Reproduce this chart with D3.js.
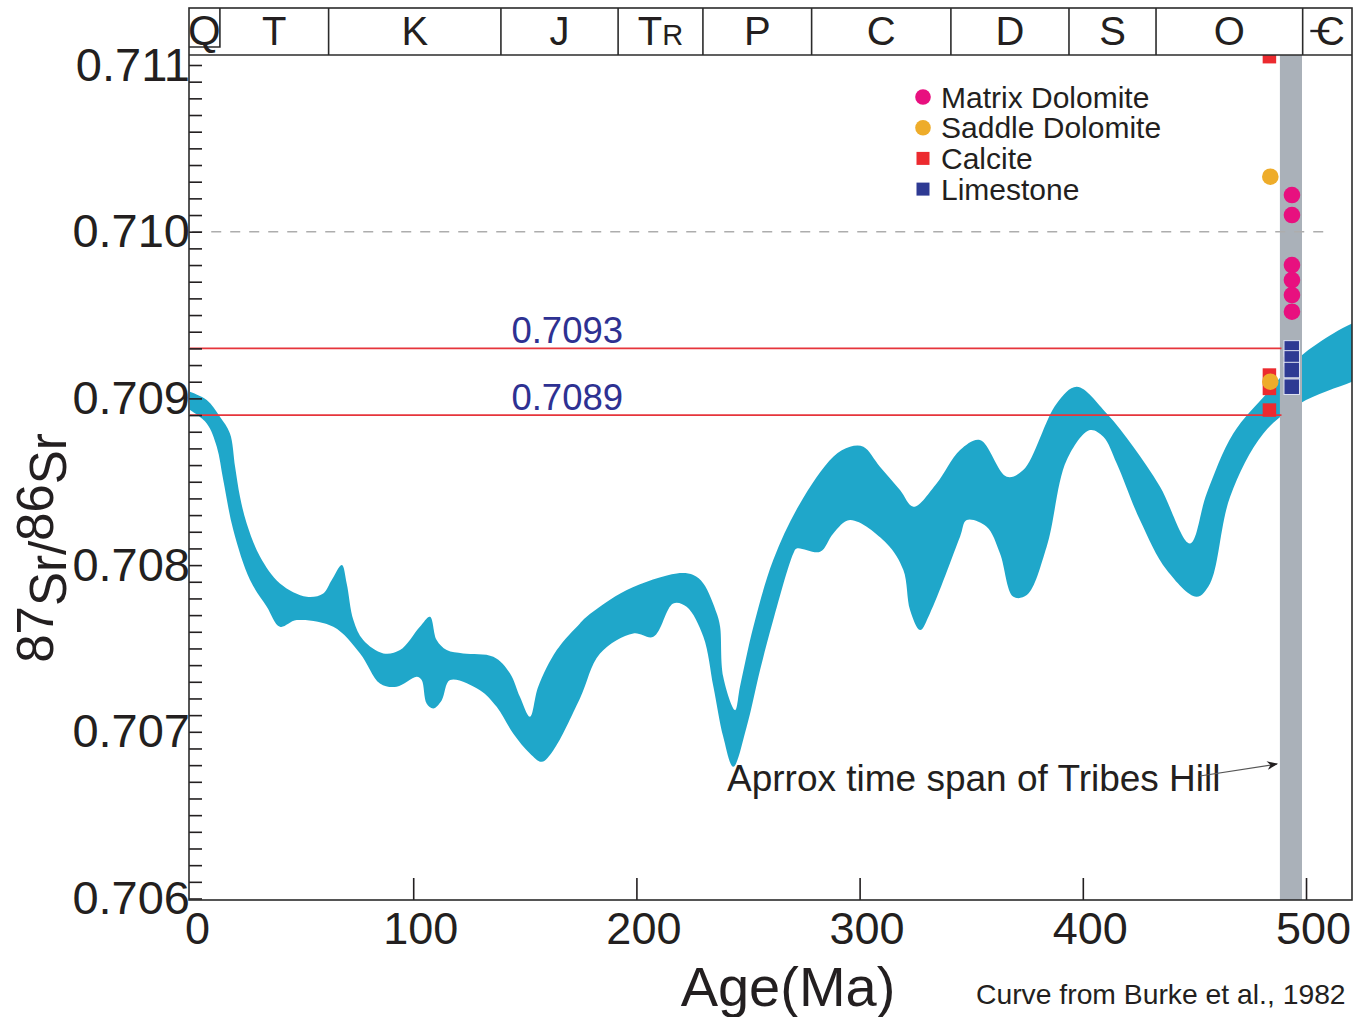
<!DOCTYPE html>
<html>
<head>
<meta charset="utf-8">
<script src="https://cdn.jsdelivr.net/npm/d3@7"></script>
<style>
  body { margin: 0; background: #fff; }
  svg { display: block; }
  text { font-family: "Liberation Sans", Arial, sans-serif; fill: #231f20; }
</style>
</head>
<body>
<svg id="chart" width="1357" height="1017"></svg>
<script>
// Seawater 87Sr/86Sr envelope (Burke et al., 1982): upper and lower edges of the band
const upperAge = [0,7.5,13.4,17.9,20.2,22.4,25.4,31.4,40.3,52.3,59.7,63.5,68.0,70.2,73.2,77.6,86.6,94.1,103.0,107.5,110.5,115.0,122.4,135.9,143.4,147.8,152.3,156.0,164.3,174.7,177.7,195.7,218.1,225.5,230.0,236.0,237.5,238.9,244.2,246.4,252.4,261.3,273.3,288.2,295.7,301.7,309.1,318.1,324.1,334.5,345.0,353.9,365.9,373.3,388.3,397.3,410.7,422.6,434.6,448.0,455.5,467.4,482.4,497.3,512.2,520.6,530];
const upperSr = [0.70904,0.70899,0.70889,0.70879,0.70859,0.70841,0.70825,0.70805,0.70789,0.70781,0.70783,0.70791,0.70800,0.70789,0.70767,0.70755,0.70747,0.70749,0.70763,0.70769,0.70755,0.70749,0.70747,0.70745,0.70735,0.70721,0.70709,0.70727,0.70749,0.70765,0.70769,0.70785,0.70795,0.70794,0.70789,0.70771,0.70763,0.70733,0.70713,0.70727,0.70763,0.70803,0.70837,0.70865,0.70871,0.70871,0.70859,0.70845,0.70835,0.70849,0.70869,0.70875,0.70853,0.70857,0.70897,0.70907,0.70891,0.70871,0.70847,0.70813,0.70843,0.70879,0.70903,0.70925,0.70939,0.70945,0.70951];
const lowerAge = [0,7.5,12.0,14.9,19.4,26.9,34.4,40.3,47.8,64.2,76.2,85.1,92.6,101.6,103.8,106.0,109.0,112.8,116.5,129.9,137.4,144.8,152.3,157.6,162.8,174.7,183.7,198.6,207.6,216.5,222.5,230.0,234.5,238.9,243.4,249.4,255.4,261.3,270.3,271.8,282.3,288.2,295.7,312.1,319.6,322.6,327.1,331.5,345.0,348.0,356.9,362.9,368.9,374.9,383.8,392.8,403.2,409.2,415.2,425.6,437.6,451.0,457.0,466.0,480.9,497.3,520.6,530];
const lowerSr = [0.70893,0.70885,0.70871,0.70851,0.70821,0.70791,0.70775,0.70763,0.70767,0.70763,0.70747,0.70729,0.70727,0.70733,0.70731,0.70717,0.70714,0.70719,0.70731,0.70725,0.70715,0.70699,0.70687,0.70682,0.70689,0.70720,0.70747,0.70759,0.70757,0.70777,0.70775,0.70757,0.70727,0.70697,0.70679,0.70703,0.70737,0.70767,0.70807,0.70810,0.70808,0.70819,0.70827,0.70813,0.70797,0.70773,0.70761,0.70771,0.70817,0.70827,0.70823,0.70807,0.70781,0.70782,0.70811,0.70863,0.70881,0.70877,0.70861,0.70827,0.70797,0.70781,0.70789,0.70841,0.70879,0.70897,0.70910,0.70915];

// Tribes Hill samples
const matrixAge = [493.7,493.7,493.7,493.7,493.7,493.7];
const matrixSr = [0.71022,0.71010,0.70980,0.70971,0.70962,0.70952];
const saddleAge = [484.0,484.0];
const saddleSr = [0.71033,0.70910];
const calciteAge = [483.6,483.6,483.6,483.6];
const calciteSr = [0.71105,0.70914,0.70906,0.70893];
const limestoneAge = [493.6,493.6,493.6,493.6];
const limestoneSr = [0.70930,0.70924,0.70917,0.70907];

// Approximate age span of the Tribes Hill Formation
const tribesHillSpan = [488.3, 498.2];

// Reference ratios
const refRatios = [0.7093, 0.7089];
const refLabels = ["0.7093", "0.7089"];

// Geological time scale
const periodNames = ["Q","T","K","J","TR","P","C","D","S","O","Є"];
const periodBounds = [0,13.4,62.1,139.3,191.8,229.8,278.5,340.9,393.8,432.8,498.5,520.6];

// Axis ticks
const xTicks = [0,100,200,300,400,500];
const yMajor = [0.706,0.707,0.708,0.709,0.710,0.711];
const yMinor = d3.range(0, 51).map(i => +(0.706 + i * 0.0001).toFixed(4));

const legendItems = [
  {label: "Matrix Dolomite", color: "#e8107f", shape: "circle"},
  {label: "Saddle Dolomite", color: "#eeac2a", shape: "circle"},
  {label: "Calcite", color: "#ec2a2f", shape: "square"},
  {label: "Limestone", color: "#2e3a93", shape: "square"}
];

const svg = d3.select("#chart");
const L = 189, R = 1352, T = 55, B = 900, barTop = 8;

const x = d3.scaleLinear().domain([0, 520.6]).range([190, 1352]);
const y = d3.scaleLinear().domain([0.706, 0.711]).range([898.5, 65]);

svg.append("defs").append("clipPath").attr("id", "plotClip")
  .append("rect").attr("x", L).attr("y", T).attr("width", R - L).attr("height", B - T);
svg.select("defs").append("marker")
  .attr("id", "arrowHead").attr("viewBox", "0 0 10 10").attr("refX", 9).attr("refY", 5)
  .attr("markerWidth", 16).attr("markerHeight", 11).attr("markerUnits", "userSpaceOnUse")
  .attr("orient", "auto")
  .append("path").attr("d", "M0,1 L10,5 L0,9 L3,5 Z").attr("fill", "#231f20");

const plot = svg.append("g").attr("clip-path", "url(#plotClip)");

// Sr isotope band
const upperPts = upperAge.map((a, i) => [a, upperSr[i]]);
const lowerPts = lowerAge.map((a, i) => [a, lowerSr[i]]);
const outline = upperPts.concat(lowerPts.slice().reverse());
const bandLine = d3.line().x(d => x(d[0])).y(d => y(d[1])).curve(d3.curveCatmullRom.alpha(0.5));
plot.append("path").attr("d", bandLine(outline) + "Z").attr("fill", "#1fa7ca");

// Tribes Hill time span
plot.append("rect")
  .attr("x", x(tribesHillSpan[0])).attr("width", x(tribesHillSpan[1]) - x(tribesHillSpan[0]))
  .attr("y", T).attr("height", B - T).attr("fill", "#aab1b9");

// 0.710 dashed guide
plot.append("line")
  .attr("x1", x(1)).attr("x2", x(510)).attr("y1", y(0.710)).attr("y2", y(0.710))
  .attr("stroke", "#adadad").attr("stroke-width", 1.5).attr("stroke-dasharray", "10,9");

// Reference ratio lines and labels
refRatios.forEach((r, i) => {
  plot.append("line")
    .attr("x1", x(0)).attr("x2", x(489)).attr("y1", y(r)).attr("y2", y(r))
    .attr("stroke", "#e6353b").attr("stroke-width", 1.8);
  svg.append("text")
    .attr("x", x(169)).attr("y", y(r) - 5).attr("text-anchor", "middle")
    .style("font-size", "36.5px").style("fill", "#2e3192").text(refLabels[i]);
});

// Sample markers
const sq = 13.5;
plot.selectAll(".calcite").data(calciteAge.map((a, i) => [a, calciteSr[i]])).join("rect")
  .attr("x", d => x(d[0]) - sq / 2).attr("y", d => y(d[1]) - sq / 2)
  .attr("width", sq).attr("height", sq).attr("fill", "#ec2a2f");
plot.selectAll(".saddle").data(saddleAge.map((a, i) => [a, saddleSr[i]])).join("circle")
  .attr("cx", d => x(d[0])).attr("cy", d => y(d[1])).attr("r", 8.3).attr("fill", "#eeac2a");
plot.selectAll(".matrix").data(matrixAge.map((a, i) => [a, matrixSr[i]])).join("circle")
  .attr("cx", d => x(d[0])).attr("cy", d => y(d[1])).attr("r", 8.3).attr("fill", "#e8107f");
const lsq = 15.5;
plot.selectAll(".limestone").data(limestoneAge.map((a, i) => [a, limestoneSr[i]])).join("rect")
  .attr("x", d => x(d[0]) - lsq / 2).attr("y", d => y(d[1]) - lsq / 2)
  .attr("width", lsq).attr("height", lsq).attr("fill", "#2e3a93")
  .attr("stroke", "#dfe3f2").attr("stroke-width", 1);

// Annotation
svg.append("text").attr("x", 727).attr("y", 791).style("font-size", "37px")
  .text("Aprrox time span of Tribes Hill");
svg.append("line").attr("x1", 1200).attr("y1", 776).attr("x2", 1277).attr("y2", 764)
  .attr("stroke", "#555").attr("stroke-width", 1.2).attr("marker-end", "url(#arrowHead)");

// Legend
const lg = svg.append("g");
legendItems.forEach((d, i) => {
  const cy = 97 + i * 30.7;
  if (d.shape === "circle") {
    lg.append("circle").attr("cx", 923).attr("cy", cy).attr("r", 7.8).attr("fill", d.color);
  } else {
    lg.append("rect").attr("x", 923 - 6.5).attr("y", cy - 6.5).attr("width", 13).attr("height", 13).attr("fill", d.color);
  }
  lg.append("text").attr("x", 941).attr("y", cy + 10.5).style("font-size", "30px").text(d.label);
});

// Y axis: inward minor ticks and labels
svg.append("g").attr("transform", `translate(${L},0)`)
  .call(d3.axisRight(y).tickValues(yMinor).tickSize(13).tickFormat(""))
  .call(g => g.select(".domain").remove())
  .call(g => g.selectAll("line").attr("stroke", "#231f20").attr("stroke-width", 1.6));
svg.append("g").attr("transform", `translate(${L},0)`)
  .call(d3.axisLeft(y).tickValues(yMajor).tickSize(0).tickPadding(-1).tickFormat(d3.format(".3f")))
  .call(g => g.select(".domain").remove())
  .call(g => g.selectAll("text").style("font-size", "47px").attr("fill", "#231f20")
    .style("font-family", '"Liberation Sans", Arial, sans-serif'));

// X axis
svg.append("g").attr("transform", `translate(0,${B})`)
  .call(d3.axisBottom(x).tickValues(xTicks).tickSize(-22).tickPadding(12).tickFormat(d3.format("d")))
  .call(g => g.select(".domain").remove())
  .call(g => g.selectAll("line").attr("stroke", "#231f20").attr("stroke-width", 1.6)
    .attr("opacity", d => d === 0 ? 0 : 1))
  .call(g => g.selectAll("text").style("font-size", "45px").attr("fill", "#231f20").attr("dx", 7)
    .style("font-family", '"Liberation Sans", Arial, sans-serif'));

// Frame
const frame = svg.append("g").attr("fill", "none").attr("stroke", "#2b2b2b").attr("stroke-width", 1.6);
frame.append("rect").attr("x", L).attr("y", barTop).attr("width", R - L).attr("height", B - barTop);
frame.append("line").attr("x1", L).attr("x2", R).attr("y1", T).attr("y2", T);

// Time scale bar
periodBounds.slice(2, -1).forEach(b => {
  frame.append("line").attr("x1", x(b)).attr("x2", x(b)).attr("y1", barTop).attr("y2", T);
});
frame.append("path").attr("d", `M${x(periodBounds[1])},${barTop}V47H${L}`);
periodNames.forEach((p, i) => {
  const x0 = i === 0 ? L : x(periodBounds[i]);
  const cx = (x0 + x(periodBounds[i + 1])) / 2;
  const t = svg.append("text").attr("x", cx).attr("y", 45).attr("text-anchor", "middle")
    .style("font-size", i === 0 ? "42px" : "40px");
  if (p === "TR") {
    t.append("tspan").text("T");
    t.append("tspan").style("font-size", "29px").text("R");
  } else if (p === "Є") {
    // Cambrian symbol: C with a bar through it
    t.text("C").attr("x", cx + 3);
    frame.append("line").attr("x1", cx - 17).attr("x2", cx + 2).attr("y1", 31).attr("y2", 31)
      .attr("stroke", "#231f20").attr("stroke-width", 2.4);
  } else {
    t.text(p);
  }
});

// Axis titles
const yl = svg.append("text").attr("transform", "translate(66,548) rotate(-90)")
  .attr("text-anchor", "middle").style("font-size", "51px");
yl.append("tspan").attr("dy", -13).text("87");
yl.append("tspan").attr("dy", 13).text("Sr/");
yl.append("tspan").attr("dy", -13).text("86");
yl.append("tspan").attr("dy", 13).text("Sr");

svg.append("text").attr("x", 788).attr("y", 1006).attr("text-anchor", "middle")
  .style("font-size", "56px").text("Age(Ma)");
svg.append("text").attr("x", 976).attr("y", 1004).style("font-size", "28.3px")
  .text("Curve from Burke et al., 1982");
</script>
</body>
</html>
